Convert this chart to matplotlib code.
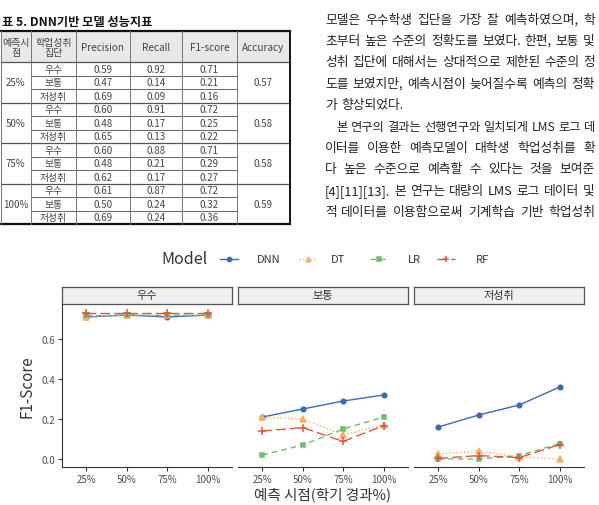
import matplotlib
matplotlib.use("Agg")
import matplotlib.pyplot as plt

plt.rcParams['font.family'] = ['Noto Sans CJK KR', 'DejaVu Sans']

# ── 데이터 ────────────────────────────────────────────────────────────────────

time_labels = ["25%", "50%", "75%", "100%"]
groups      = ["우수", "보통", "저성취"]
models      = ["DNN", "DT", "LR", "RF"]

# 표 5 (DNN 성능지표): [시점][집단]
precision = [[0.59, 0.47, 0.69], [0.60, 0.48, 0.65], [0.60, 0.48, 0.62], [0.61, 0.50, 0.69]]
recall    = [[0.92, 0.14, 0.09], [0.91, 0.17, 0.13], [0.88, 0.21, 0.17], [0.87, 0.24, 0.24]]
f1_score  = [[0.71, 0.21, 0.16], [0.72, 0.25, 0.22], [0.71, 0.29, 0.27], [0.72, 0.32, 0.36]]
accuracy  = [0.57, 0.58, 0.58, 0.59]

# 그림: 모델별 F1 [집단][시점]
f1_dnn = [[0.71, 0.72, 0.71, 0.72], [0.21, 0.25, 0.29, 0.32], [0.16, 0.22, 0.27, 0.36]]
f1_dt  = [[0.71, 0.72, 0.72, 0.72], [0.21, 0.20, 0.12, 0.17], [0.025, 0.04, 0.01, 0.00]]
f1_lr  = [[0.72, 0.72, 0.72, 0.72], [0.02, 0.07, 0.15, 0.21], [0.00, 0.00, 0.017, 0.077]]
f1_rf  = [[0.73, 0.73, 0.73, 0.73], [0.14, 0.157, 0.088, 0.167], [0.003, 0.017, 0.007, 0.072]]

body_lines = [
    "모델은 우수학생 집단을 가장 잘 예측하였으며, 학",
    "초부터 높은 수준의 정확도를 보였다. 한편, 보통 및",
    "성취 집단에 대해서는 상대적으로 제한된 수준의 정",
    "도를 보였지만, 예측시점이 늦어질수록 예측의 정확",
    "가 향상되었다.",
    "본 연구의 결과는 선행연구와 일치되게 LMS 로그 데",
    "이터를 이용한 예측모델이 대학생 학업성취를 확",
    "다 높은 수준으로 예측할 수 있다는 것을 보여준",
    "[4][11][13]. 본 연구는 대량의 LMS 로그 데이터 및",
    "적 데이터를 이용함으로써 기계학습 기반 학업성취",
]

# ── 스타일 ────────────────────────────────────────────────────────────────────

STYLE = {
    "DNN": dict(color="#3b6bb3", ls="-",          marker="o", ms=3.3),
    "DT":  dict(color="#f7b069", ls=":",          marker="^", ms=3.8),
    "LR":  dict(color="#6dbf6a", ls=(0, (4, 3)),  marker="s", ms=3.2),
    "RF":  dict(color="#e5553d", ls=(0, (7, 3)),  marker="+", ms=5.5),
}
SERIES = {"DNN": f1_dnn, "DT": f1_dt, "LR": f1_lr, "RF": f1_rf}

W, H = 599, 506
def rect(x0, y0, x1, y1):
    return [x0 / W, 1 - y1 / H, (x1 - x0) / W, (y1 - y0) / H]

fig = plt.figure(figsize=(W / 100, H / 100), dpi=100)
ov = fig.add_axes([0, 0, 1, 1])
ov.set_xlim(0, W); ov.set_ylim(H, 0); ov.axis("off")
renderer = fig.canvas.get_renderer()

# ── 표 ───────────────────────────────────────────────────────────────────────

ov.text(2, 22, "표 5. DNN기반 모델 성능지표", fontsize=8.8, fontweight="bold",
        va="center", ha="left", color="#111")

cols = [0.5, 31, 76, 130, 182, 237, 290]
top, head_b, row_h = 32, 63, 13.5
bottom = head_b + row_h * 12
tc = "#444"
ov.fill_between([cols[0], cols[-1]], top, head_b, color="#e8e8e8", lw=0)
headers = ["예측시\n점", "학업성취\n집단", "Precision", "Recall", "F1-score", "Accuracy"]
for i, h in enumerate(headers):
    ov.text((cols[i] + cols[i + 1]) / 2, (top + head_b) / 2, h, fontsize=7.2,
            ha="center", va="center", color=tc, linespacing=1.0)

for t in range(4):
    g_top = head_b + row_h * 3 * t
    ov.text((cols[0] + cols[1]) / 2, g_top + row_h * 1.5, time_labels[t],
            fontsize=7, ha="center", va="center", color=tc)
    ov.text((cols[5] + cols[6]) / 2, g_top + row_h * 1.5, f"{accuracy[t]:.2f}",
            fontsize=7, ha="center", va="center", color=tc)
    for g in range(3):
        yc = g_top + row_h * (g + 0.5)
        vals = [groups[g], f"{precision[t][g]:.2f}", f"{recall[t][g]:.2f}", f"{f1_score[t][g]:.2f}"]
        for j, v in enumerate(vals):
            ov.text((cols[j + 1] + cols[j + 2]) / 2, yc, v, fontsize=7,
                    ha="center", va="center", color=tc)
        if g > 0:
            ov.plot([cols[1], cols[5]], [g_top + row_h * g] * 2, color="#666", lw=0.7)
    if t > 0:
        ov.plot([cols[0], cols[-1]], [g_top] * 2, color="#555", lw=0.9)

ov.plot([cols[0], cols[-1]], [head_b] * 2, color="#555", lw=0.9)
ov.plot([cols[0], cols[-1]], [top] * 2, color="#111", lw=1.6)
ov.plot([cols[0], cols[-1]], [bottom] * 2, color="#111", lw=1.6)
for k, x in enumerate(cols):
    if k == len(cols) - 1:
        ov.plot([x, x], [top, bottom], color="#111", lw=1.4)
    else:
        ov.plot([x, x], [top, bottom], color="#777", lw=0.7)

# ── 본문 (양쪽 정렬) ──────────────────────────────────────────────────────────

RIGHT = 595
for i, line in enumerate(body_lines):
    x0 = 336 if i == 5 else 325
    y = 20 + 21.4 * i
    words = line.split(" ")
    fs = 9.2
    while True:
        arts = [ov.text(0, y, w, fontsize=fs, ha="left", va="center", color="#222")
                for w in words]
        widths = [a.get_window_extent(renderer).width for a in arts]
        room = (RIGHT - x0 - sum(widths)) / max(len(words) - 1, 1)
        if room >= 2.5 or fs < 7.5:
            break
        for a in arts:
            a.remove()
        fs -= 0.2
    gap = 4.5 if i == 4 else room
    x = x0
    for a, w in zip(arts, widths):
        a.set_x(x)
        x += w + gap

# ── 범례 ─────────────────────────────────────────────────────────────────────

ov.text(161, 260, "Model", fontsize=11.5, ha="left", va="center", color="#333")
for m, kx, lx in zip(models, [229, 308, 379, 446], [257, 331, 408, 476]):
    st = STYLE[m]
    ov.plot([kx - 9, kx + 9], [260, 260], color=st["color"], ls=st["ls"], lw=1.0)
    ov.plot([kx], [260], color=st["color"], marker=st["marker"], ms=st["ms"] * 0.9,
            ls="none", mew=1.1)
    ov.text(lx, 260, m, fontsize=8, ha="left", va="center", color="#333")

# ── 패널 ─────────────────────────────────────────────────────────────────────

panel_x = [(62, 232), (238, 408), (414, 584)]
x_pos = [1, 2, 3, 4]
for gi, (x0, x1) in enumerate(panel_x):
    sax = fig.add_axes(rect(x0, 288, x1, 305))
    sax.set_xticks([]); sax.set_yticks([])
    sax.set_facecolor("#efefef")
    for sp in sax.spines.values():
        sp.set_color("#555"); sp.set_linewidth(0.9)
    sax.text(0.5, 0.5, groups[gi], transform=sax.transAxes, ha="center",
             va="center", fontsize=8, color="#333")

    ax = fig.add_axes(rect(x0, 305, x1, 468))
    for m in models:
        st = STYLE[m]
        ax.plot(x_pos, SERIES[m][gi], color=st["color"], ls=st["ls"], lw=1.0,
                marker=st["marker"], ms=st["ms"], mew=1.1)
    ax.set_xlim(0.4, 4.6)
    ax.set_ylim(-0.04, 0.775)
    ax.set_xticks(x_pos)
    ax.set_xticklabels(time_labels, fontsize=7, color="#4d4d4d")
    ax.spines["top"].set_visible(False)
    ax.spines["right"].set_visible(False)
    ax.spines["bottom"].set_color("#333")
    ax.spines["left"].set_color("#333")
    ax.tick_params(axis="x", length=3, color="#333", pad=2)
    if gi == 0:
        ax.set_yticks([0.0, 0.2, 0.4, 0.6])
        ax.set_yticklabels(["0.0", "0.2", "0.4", "0.6"], fontsize=7, color="#4d4d4d")
        ax.tick_params(axis="y", length=3, color="#333", pad=2)
        ax.set_ylabel("F1-Score", fontsize=11, color="#333", labelpad=4)
    else:
        ax.spines["left"].set_visible(False)
        ax.set_yticks([])
    ax.patch.set_alpha(0)

ov.text(323, 495, "예측 시점(학기 경과%)", fontsize=10.5, ha="center", va="center",
        color="#333")

fig.savefig("out.png", dpi=100)
